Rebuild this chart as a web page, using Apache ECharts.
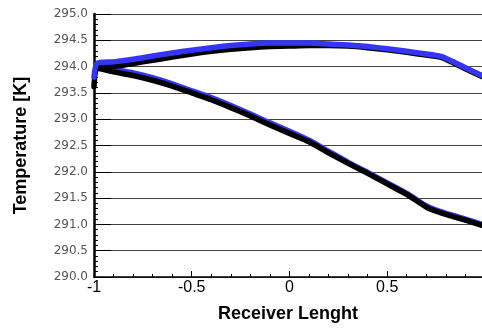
<!DOCTYPE html>
<html>
<head>
<meta charset="utf-8">
<script src="https://cdn.jsdelivr.net/npm/echarts@6/dist/echarts.min.js"></script>
<style>html,body{margin:0;padding:0;background:#fff}#c{width:482px;height:328px}</style>
</head>
<body>
<div id="c"></div>
<script>
var upperX      = [-1, -0.985, -0.9, -0.8, -0.7, -0.6, -0.5, -0.4, -0.3, -0.2, -0.1, 0, 0.1, 0.2, 0.3, 0.4, 0.5, 0.6, 0.7, 0.78, 0.85, 0.9, 0.985];
var blueUpper   = [293.8, 294.06, 294.09, 294.14, 294.2, 294.26, 294.31, 294.36, 294.4, 294.43, 294.45, 294.45, 294.45, 294.43, 294.41, 294.38, 294.34, 294.29, 294.24, 294.19, 294.07, 293.98, 293.83];
var blackUpper  = [293.62, 293.97, 294.0, 294.06, 294.12, 294.18, 294.24, 294.29, 294.33, 294.36, 294.38, 294.39, 294.4, 294.4, 294.39, 294.36, 294.32, 294.27, 294.22, 294.17, 294.05, 293.96, 293.81];
var lowerX      = [-0.985, -0.9, -0.8, -0.7, -0.6, -0.5, -0.4, -0.3, -0.2, -0.1, 0, 0.1, 0.2, 0.3, 0.4, 0.5, 0.6, 0.7, 0.75, 0.8, 0.9, 0.985];
var blueLower   = [294.01, 293.95, 293.88, 293.79, 293.67, 293.54, 293.41, 293.26, 293.1, 292.93, 292.77, 292.6, 292.39, 292.18, 291.99, 291.79, 291.59, 291.35, 291.27, 291.21, 291.1, 291.0];
var blackLower  = [293.97, 293.9, 293.83, 293.74, 293.63, 293.5, 293.37, 293.22, 293.06, 292.89, 292.73, 292.57, 292.36, 292.16, 291.97, 291.77, 291.57, 291.33, 291.25, 291.19, 291.08, 290.98];
var xTicks = [-1, -0.5, 0, 0.5];
var xTitle = 'Receiver Lenght';
var yTitle = 'Temperature [K]';

function pairs(xs, ys){ return xs.map(function(x,i){ return [x, ys[i]]; }); }
var BLUE = '#3535f5', BLACK = '#000000';
function line(name, xs, ys, color, z){
  return { name: name, type: 'line', data: pairs(xs, ys), showSymbol: false, symbol: 'none',
    smooth: 0.2, z: z, lineStyle: { color: color, width: 5.5, cap: 'round', join: 'round' }, animation: false };
}

var chart = echarts.init(document.getElementById('c'), null, {renderer: 'canvas'});
chart.setOption({
  animation: false,
  grid: { left: 94, right: 0, top: 14, bottom: 48, containLabel: false },
  xAxis: {
    type: 'value', min: -1, max: 0.985, interval: 0.5,
    name: xTitle, nameLocation: 'middle', nameGap: 28,
    nameTextStyle: { fontFamily: 'Liberation Sans', fontWeight: 'bold', fontSize: 18, color: '#000' },
    axisLine: { show: true, onZero: false, lineStyle: { color: '#000', width: 1.5 } },
    axisTick: { show: true, inside: true, length: 6, lineStyle: { color: '#000', width: 1 } },
    minorTick: { show: true, splitNumber: 5, length: 3, lineStyle: { color: '#000', width: 1 } },
    splitLine: { show: false },
    axisLabel: { margin: 3, fontFamily: 'Liberation Sans', fontSize: 16, color: '#000', showMaxLabel: false,
      formatter: function(v){ return xTicks.indexOf(v) >= 0 ? String(v) : ''; } }
  },
  yAxis: {
    type: 'value', min: 290, max: 295, interval: 0.5,
    name: yTitle, nameLocation: 'middle', nameGap: 64, nameRotate: 90,
    nameTextStyle: { fontFamily: 'Liberation Sans', fontWeight: 'bold', fontSize: 18, color: '#000' },
    axisLine: { show: true, onZero: false, lineStyle: { color: '#000', width: 2.5 } },
    axisTick: { show: true, inside: true, length: 17, lineStyle: { color: '#000', width: 1 } },
    minorTick: { show: true, splitNumber: 5, length: 4, lineStyle: { color: '#000', width: 1 } },
    splitLine: { show: true, lineStyle: { color: '#444', width: 1 } },
    axisLabel: { margin: 6, fontFamily: 'DejaVu Sans', fontSize: 12, color: '#555',
      formatter: function(v){ return v.toFixed(1); } }
  },
  series: [
    line('blueLower', lowerX, blueLower, BLUE, 2),
    line('blackLower', lowerX, blackLower, BLACK, 3),
    line('blackUpper', upperX, blackUpper, BLACK, 4),
    line('blueUpper', upperX, blueUpper, BLUE, 5)
  ]
});
</script>
</body>
</html>
